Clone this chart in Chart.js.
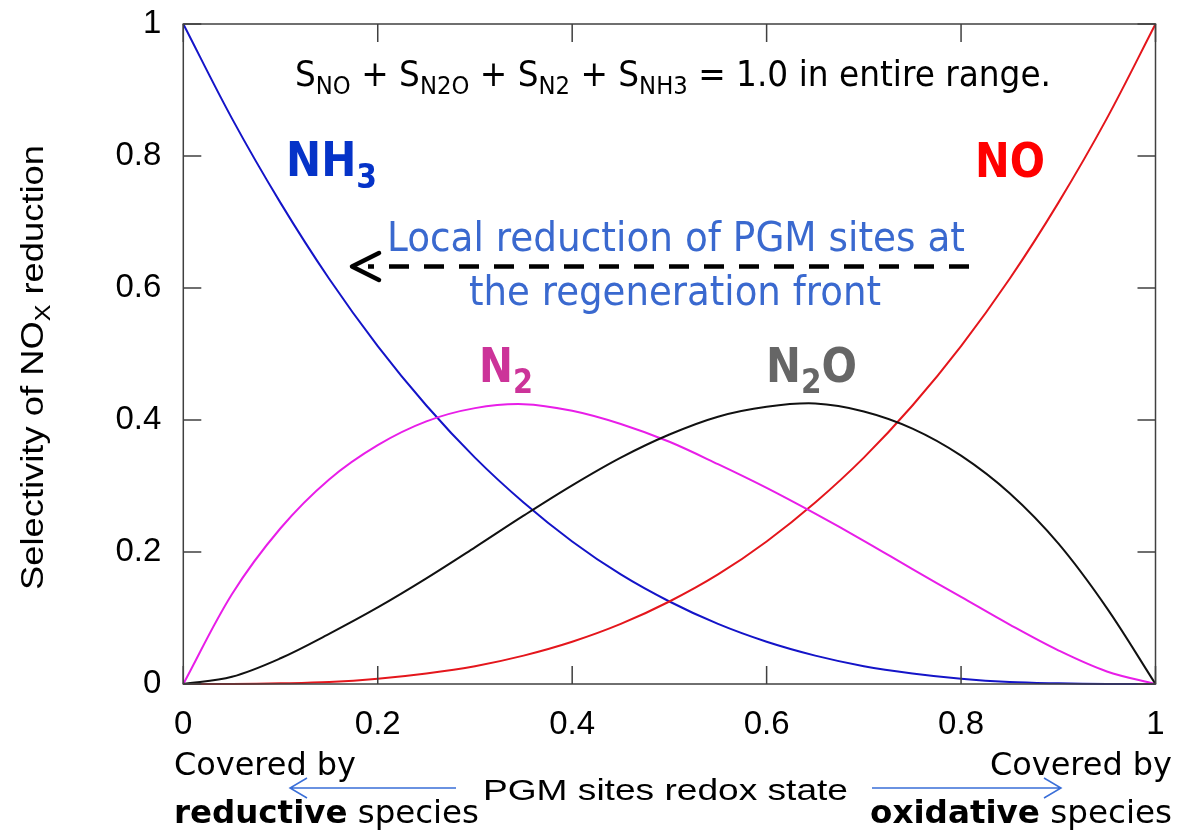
<!DOCTYPE html>
<html>
<head>
<meta charset="utf-8">
<script src="https://cdn.jsdelivr.net/npm/chart.js@4"></script>
<style>
  html, body { margin: 0; padding: 0; background: #fff; }
  #chart { display: block; }
</style>
</head>
<body>
<canvas id="chart" width="1178" height="831"></canvas>
<script>
// redox state of the PGM sites (x) and selectivity of each product
const redoxState = [0, 0.05, 0.1, 0.15, 0.2, 0.25, 0.3, 0.35, 0.4, 0.45, 0.5,
  0.55, 0.6, 0.65, 0.7, 0.75, 0.8, 0.85, 0.9, 0.95, 1];
const selNH3 = [1, 0.857, 0.729, 0.614, 0.512, 0.422, 0.343, 0.275, 0.216, 0.166, 0.125,
  0.091, 0.064, 0.043, 0.027, 0.016, 0.008, 0.003, 0.001, 0, 0];
const selNO = [0, 0, 0.001, 0.003, 0.008, 0.016, 0.027, 0.043, 0.064, 0.091, 0.125,
  0.166, 0.216, 0.275, 0.343, 0.422, 0.512, 0.614, 0.729, 0.857, 1];
const selN2 = [0, 0.136, 0.236, 0.31, 0.362, 0.398, 0.418, 0.424, 0.414, 0.394, 0.367,
  0.333, 0.297, 0.258, 0.217, 0.174, 0.132, 0.09, 0.051, 0.019, 0];
const selN2O = [0, 0.011, 0.039, 0.076, 0.116, 0.16, 0.207, 0.255, 0.301, 0.343, 0.378,
  0.405, 0.42, 0.425, 0.413, 0.387, 0.346, 0.289, 0.213, 0.115, 0];
const xTicks = [0, 0.2, 0.4, 0.6, 0.8, 1];
const yTicks = [0, 0.2, 0.4, 0.6, 0.8, 1];

const toPoints = (ys) => redoxState.map((x, i) => ({ x: x, y: ys[i] }));

const lineSet = (label, ys, color) => ({
  label: label,
  data: toPoints(ys),
  borderColor: color,
  borderWidth: 2,
  pointRadius: 0,
  fill: false,
  tension: 0.35,
  clip: 4,
});

// draws a row of text pieces (plain, bold, subscripts) squeezed to a given width
function drawRuns(ctx, runs, x, y, width, align) {
  let total = 0;
  const widths = runs.map((r) => {
    ctx.font = r.font;
    const w = ctx.measureText(r.text).width;
    total += w;
    return w;
  });
  const sx = width ? width / total : 1;
  let start = x;
  if (align === "center") start = x - (total * sx) / 2;
  if (align === "right") start = x - total * sx;
  ctx.save();
  ctx.translate(start, y);
  ctx.scale(sx, 1);
  ctx.textBaseline = "alphabetic";
  ctx.textAlign = "left";
  let cursor = 0;
  runs.forEach((r, i) => {
    ctx.font = r.font;
    ctx.fillStyle = r.color || "#000";
    ctx.fillText(r.text, cursor, r.dy || 0);
    cursor += widths[i];
  });
  ctx.restore();
}

const SANS = "'DejaVu Sans', Verdana, sans-serif";
const ARIAL = "'Liberation Sans', Arial, sans-serif";

// box round the plot with inward ticks on all four sides
const framePlugin = {
  id: "frame",
  afterDraw(chart) {
    const ctx = chart.ctx;
    const a = chart.chartArea;
    const xs = chart.scales.x;
    const ys = chart.scales.y;
    const len = 18;
    ctx.save();
    ctx.strokeStyle = "#404040";
    ctx.lineWidth = 1.5;
    ctx.strokeRect(a.left, a.top, a.right - a.left, a.bottom - a.top);
    ctx.beginPath();
    xTicks.forEach((v) => {
      const px = xs.getPixelForValue(v);
      ctx.moveTo(px, a.bottom);
      ctx.lineTo(px, a.bottom - len);
      ctx.moveTo(px, a.top);
      ctx.lineTo(px, a.top + len);
    });
    yTicks.forEach((v) => {
      const py = ys.getPixelForValue(v);
      ctx.moveTo(a.left, py);
      ctx.lineTo(a.left + len, py);
      ctx.moveTo(a.right, py);
      ctx.lineTo(a.right - len, py);
    });
    ctx.stroke();
    ctx.restore();
  },
};

// curve names, notes, arrows and axis captions
const notesPlugin = {
  id: "notes",
  afterDraw(chart) {
    const ctx = chart.ctx;
    const sub = (t, size, color, dy, bold) => ({
      text: t,
      font: (bold ? "bold " : "") + size + "px " + SANS,
      color: color,
      dy: dy,
    });

    // sum rule
    drawRuns(ctx, [
      sub("S", 36, "#000", 0), sub("NO", 25, "#000", 8),
      sub(" + S", 36, "#000", 0), sub("N2O", 25, "#000", 8),
      sub(" + S", 36, "#000", 0), sub("N2", 25, "#000", 8),
      sub(" + S", 36, "#000", 0), sub("NH3", 25, "#000", 8),
      sub(" = 1.0 in entire range.", 36, "#000", 0),
    ], 295, 86, 756, "left");

    // curve names
    drawRuns(ctx, [sub("NH", 48, "#0533c8", 0, true), sub("3", 34, "#0533c8", 12, true)], 286, 176, 91, "left");
    drawRuns(ctx, [sub("NO", 48, "#ff0000", 0, true)], 975, 176.5, 70, "left");
    drawRuns(ctx, [sub("N", 48, "#cc3399", 0, true), sub("2", 34, "#cc3399", 11, true)], 479, 381.5, 54, "left");
    drawRuns(ctx, [sub("N", 48, "#666666", 0, true), sub("2", 34, "#666666", 11, true),
      sub("O", 48, "#666666", 0, true)], 766, 381.5, 91, "left");

    // regeneration front note
    const blue = "#3a69cf";
    drawRuns(ctx, [sub("Local reduction of PGM sites at", 41, blue, 0)], 676, 251, 578, "center");
    drawRuns(ctx, [sub("the regeneration front", 41, blue, 0)], 675, 305, 412, "center");

    // dashed arrow
    ctx.save();
    ctx.strokeStyle = "#000";
    ctx.lineWidth = 4.5;
    ctx.setLineDash([20, 15]);
    ctx.beginPath();
    ctx.moveTo(969, 266.5);
    ctx.lineTo(368, 266.5);
    ctx.stroke();
    ctx.setLineDash([]);
    ctx.lineCap = "round";
    ctx.lineJoin = "round";
    ctx.beginPath();
    ctx.moveTo(379, 253);
    ctx.lineTo(352, 266.5);
    ctx.lineTo(379, 280);
    ctx.stroke();
    ctx.restore();

    // axis captions below the x axis
    drawRuns(ctx, [sub("Covered by", 32, "#000", 0)], 174, 775, 182, "left");
    drawRuns(ctx, [sub("reductive", 32, "#000", 0, true), sub(" species", 32, "#000", 0)], 174, 823, 305, "left");
    drawRuns(ctx, [sub("Covered by", 32, "#000", 0)], 1172, 775, 182, "right");
    drawRuns(ctx, [sub("oxidative", 32, "#000", 0, true), sub(" species", 32, "#000", 0)], 1172, 823, 302, "right");
    drawRuns(ctx, [{ text: "PGM sites redox state", font: "30px " + ARIAL, color: "#000" }], 483, 800, 365, "left");

    // thin blue arrows either side of the caption
    ctx.save();
    ctx.strokeStyle = "#3a6fd8";
    ctx.lineWidth = 1.5;
    ctx.beginPath();
    ctx.moveTo(456, 788);
    ctx.lineTo(290, 788);
    ctx.moveTo(307, 778);
    ctx.lineTo(290, 788);
    ctx.lineTo(307, 798);
    ctx.moveTo(872, 788);
    ctx.lineTo(1061, 788);
    ctx.moveTo(1044, 778);
    ctx.lineTo(1061, 788);
    ctx.lineTo(1044, 798);
    ctx.stroke();
    ctx.restore();

    // y axis title, rotated
    ctx.save();
    ctx.translate(43, 590);
    ctx.rotate(-Math.PI / 2);
    drawRuns(ctx, [
      { text: "Selectivity of NO", font: "32px " + ARIAL, color: "#000" },
      { text: "X", font: "22px " + ARIAL, color: "#000", dy: 7 },
      { text: " reduction", font: "32px " + ARIAL, color: "#000" },
    ], 0, 0, 445, "left");
    ctx.restore();
  },
};

const tickFont = { family: "'Liberation Sans', Arial, sans-serif", size: 33 };

const ctx = document.getElementById("chart").getContext("2d");
new Chart(ctx, {
  type: "line",
  data: {
    datasets: [
      lineSet("N2O", selN2O, "#111111"),
      lineSet("N2", selN2, "#e81ee8"),
      lineSet("NO", selNO, "#e4161c"),
      lineSet("NH3", selNH3, "#1414c8"),
    ],
  },
  options: {
    responsive: false,
    animation: false,
    devicePixelRatio: 1,
    layout: { padding: { top: 24, right: 22.5, left: 0, bottom: 0 } },
    plugins: {
      legend: { display: false },
      tooltip: { enabled: false },
    },
    scales: {
      x: {
        type: "linear",
        min: 0,
        max: 1,
        afterFit: (s) => {
          s.height = 147;
          s.paddingLeft = 0;
          s.paddingRight = 0;
        },
        afterBuildTicks: (s) => { s.ticks = xTicks.map((v) => ({ value: v })); },
        grid: { display: false, drawTicks: false },
        border: { display: false },
        ticks: {
          padding: 21,
          color: "#000",
          font: tickFont,
          maxRotation: 0,
          callback: (v) => String(v),
        },
      },
      y: {
        type: "linear",
        min: 0,
        max: 1,
        afterFit: (s) => {
          s.width = 183.3;
          s.paddingTop = 0;
          s.paddingBottom = 0;
        },
        afterBuildTicks: (s) => { s.ticks = yTicks.map((v) => ({ value: v })); },
        grid: { display: false, drawTicks: false },
        border: { display: false },
        ticks: {
          padding: 22,
          color: "#000",
          font: tickFont,
          callback: (v) => String(v),
        },
      },
    },
  },
  plugins: [framePlugin, notesPlugin],
});
</script>
</body>
</html>
